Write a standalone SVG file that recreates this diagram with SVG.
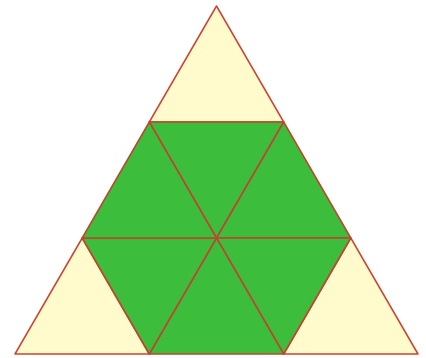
<svg xmlns="http://www.w3.org/2000/svg" width="426" height="358" viewBox="0 0 426 358">
<style>
.c{fill:#fffbcc;stroke:#cc4433;stroke-width:1.5;stroke-linejoin:round}
.g{fill:#3cbe3c;stroke:#c0442e;stroke-width:1.5;stroke-linejoin:round}
</style>
<rect width="426" height="358" fill="#ffffff"/>
<g id="top"><polygon class="c" points="216.5,6 283.7,122 149.3,122"/></g>
<g id="left"><polygon class="c" points="82.2,238 149.3,354 15,354"/></g>
<g id="right"><polygon class="c" points="350.8,238 418,354 283.7,354"/></g>
<g id="h1"><polygon class="g" points="149.3,122 283.7,122 216.5,238"/></g>
<g id="h2"><polygon class="g" points="283.7,122 350.8,238 216.5,238"/></g>
<g id="h3"><polygon class="g" points="350.8,238 283.7,354 216.5,238"/></g>
<g id="h4"><polygon class="g" points="283.7,354 149.3,354 216.5,238"/></g>
<g id="h5"><polygon class="g" points="149.3,354 82.2,238 216.5,238"/></g>
<g id="h6"><polygon class="g" points="82.2,238 149.3,122 216.5,238"/></g>
</svg>
